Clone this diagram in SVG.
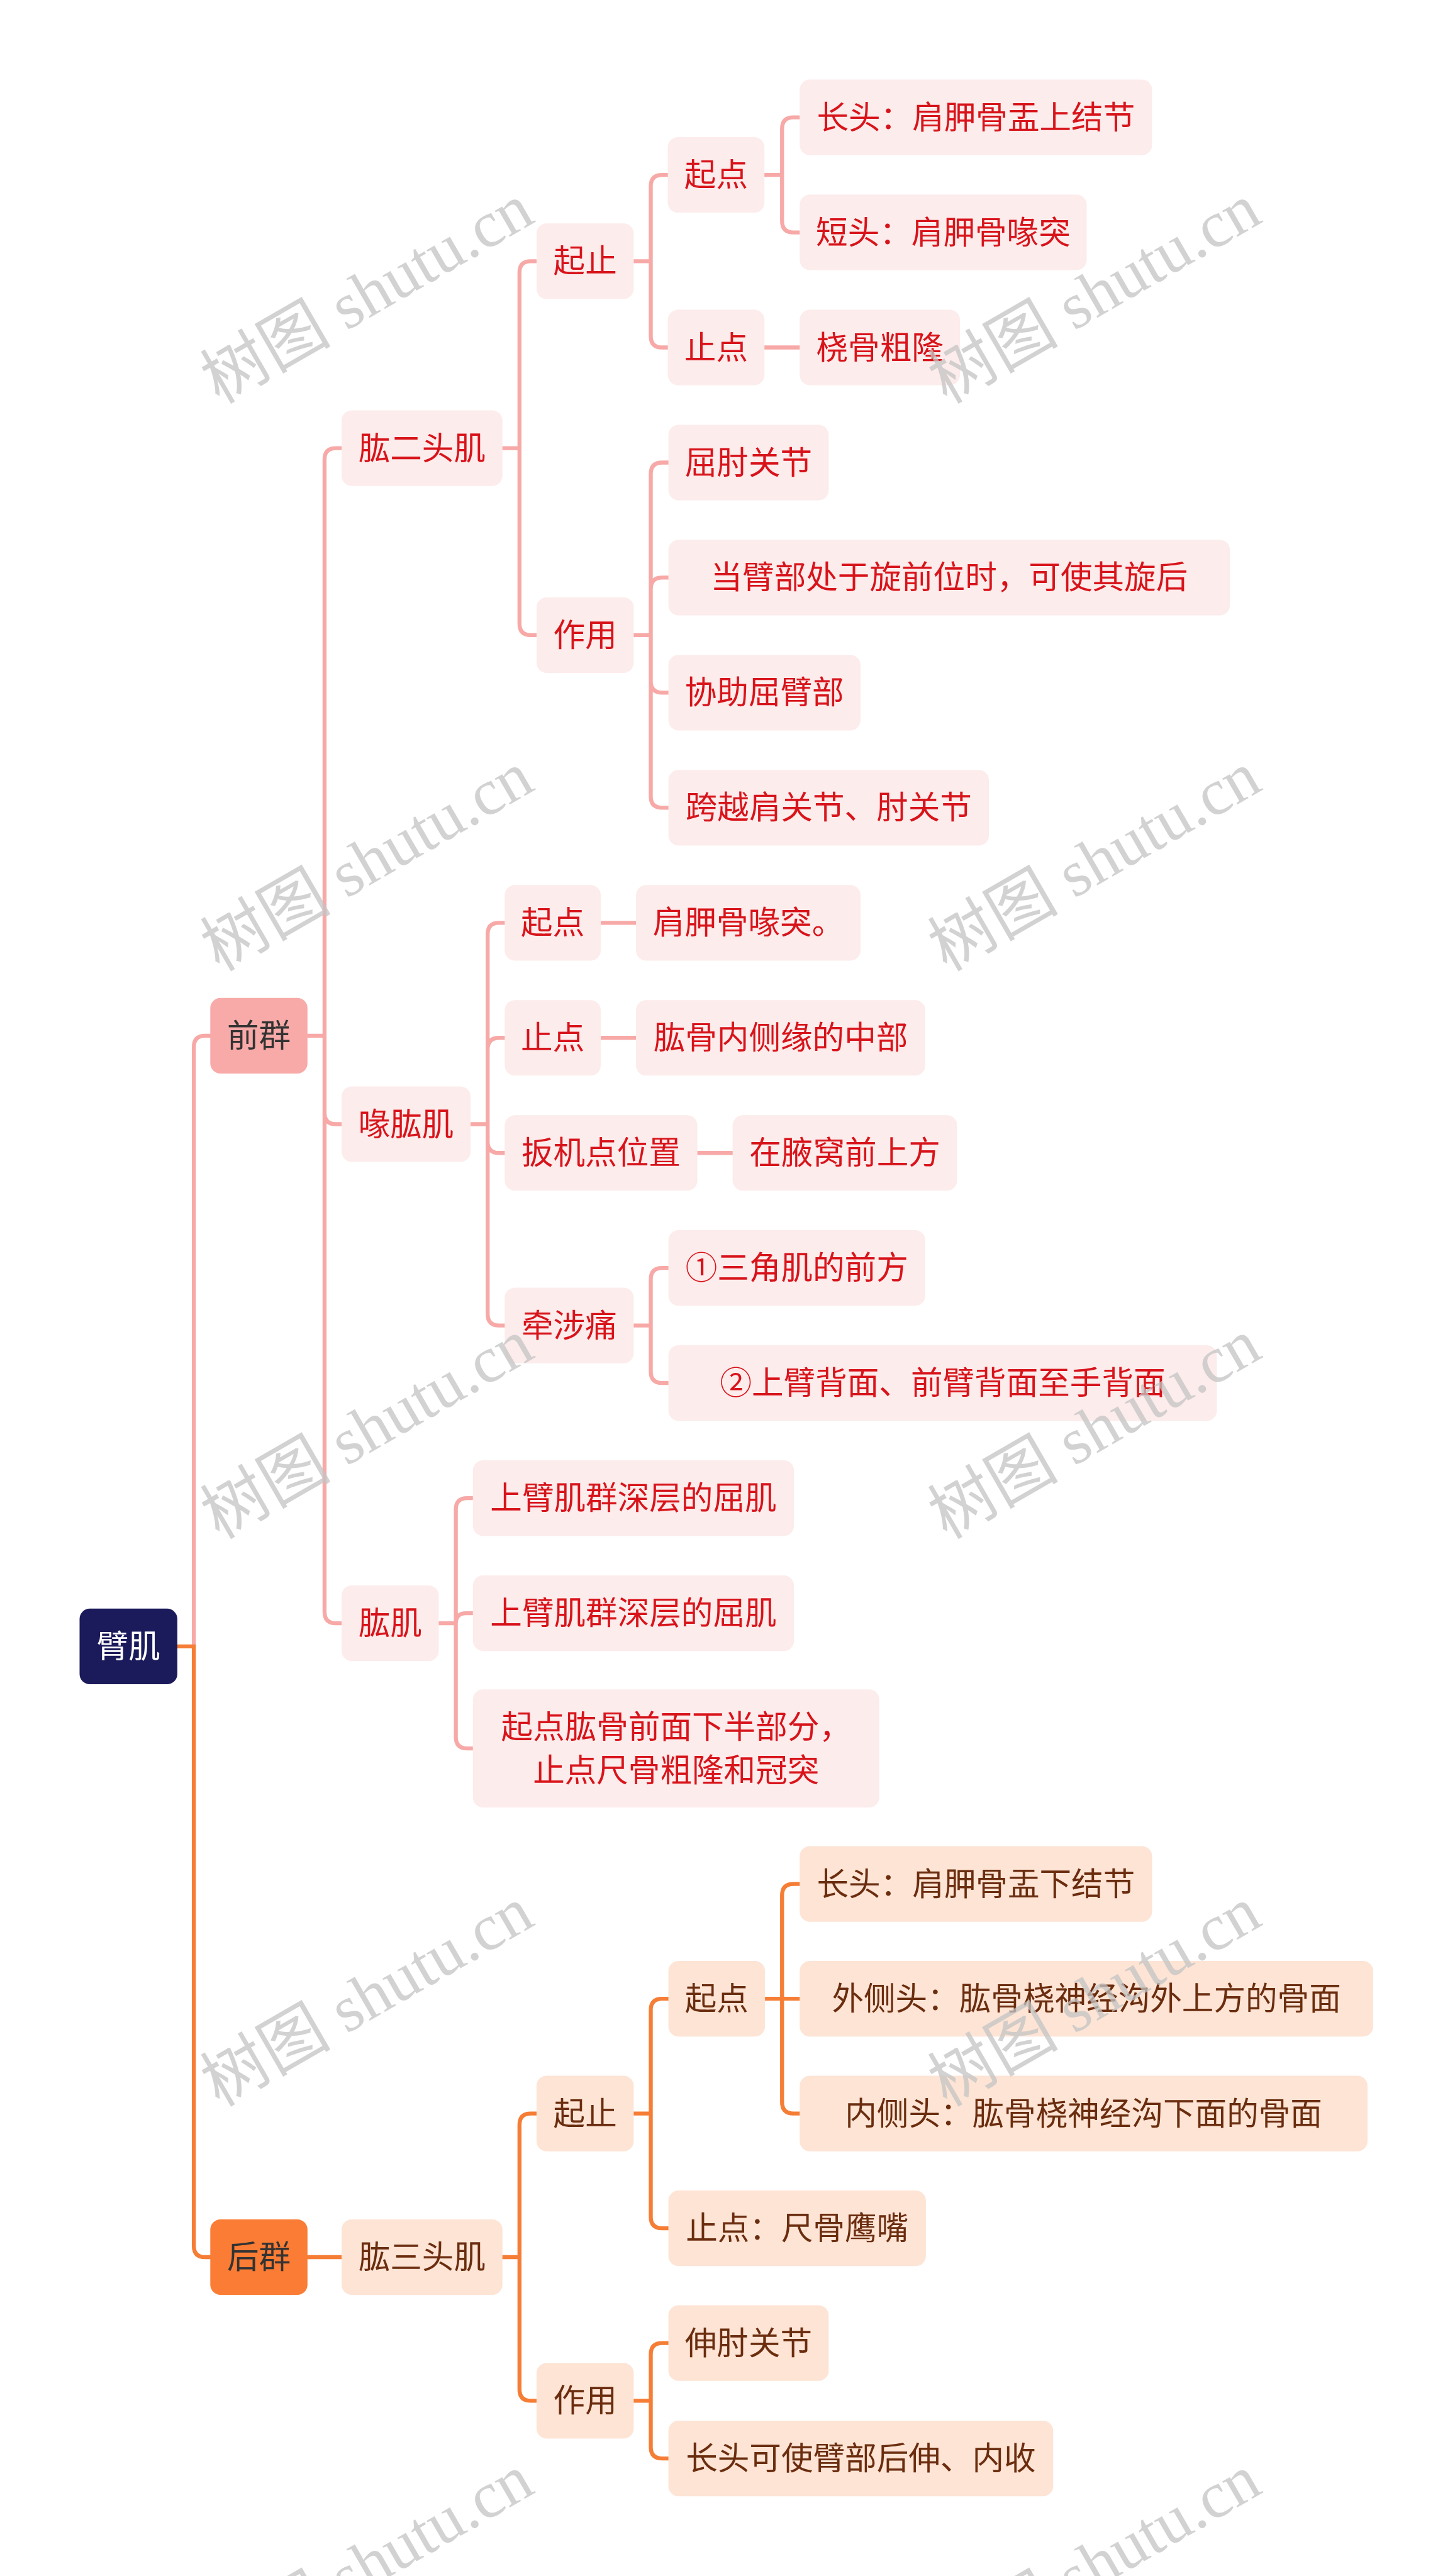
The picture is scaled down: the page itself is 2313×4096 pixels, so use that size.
<svg xmlns="http://www.w3.org/2000/svg" width="2313" height="4096" viewBox="0 0 2313 4096">
<style>
  text { font-family: "Noto Sans CJK SC", "Noto Sans", sans-serif; font-size: 56px; text-anchor: middle; }
  .pk rect { fill: #fdecec; }
  .pk text { fill: #d8141b; }
  .or rect { fill: #fde4d5; }
  .or text { fill: #6b2d0f; }
  .root rect { fill: #1b1a5b; }
  .root text { fill: #ffffff; }
  .g1p rect { fill: #f8aaa8; }
  .g1o rect { fill: #fb7c34; }
  .g1p text, .g1o text { fill: #333333; }
  .cp { fill: none; stroke: #f7a9a7; stroke-width: 7; }
  .co { fill: none; stroke: #f57d35; stroke-width: 7; }
  .wm text { font-family: "Liberation Serif", "Noto Sans CJK SC", serif; font-size: 115px; fill: #c4c4c4; opacity: 0.75; }
</style>
<rect width="2313" height="4096" fill="#ffffff"/>
<g transform="scale(0.90352)">
  <g id="connectors">
    <g class="cp">
      <path d="M341 2897.5 V1842.75 Q341 1822.75 361 1822.75 H371"/>
      <path d="M540 1822.75 H571 M571 1822.75 V808.75 Q571 788.75 591 788.75 H602 M571 1822.75 V1958.4 Q571 1978.4 591 1978.4 H602 M571 1822.75 V2836.75 Q571 2856.75 591 2856.75 H602"/>
      <path d="M883 788.75 H914 M914 788.75 V479.75 Q914 459.75 934 459.75 H945 M914 788.75 V1097.75 Q914 1117.75 934 1117.75 H945"/>
      <path d="M1114 459.75 H1145 M1145 459.75 V327.75 Q1145 307.75 1165 307.75 H1176 M1145 459.75 V591.5 Q1145 611.5 1165 611.5 H1176"/>
      <path d="M1344 307.75 H1376 M1376 307.75 V226.5 Q1376 206.5 1396 206.5 H1408 M1376 307.75 V389 Q1376 409 1396 409 H1408"/>
      <path d="M1344 611.5 H1408"/>
      <path d="M1114 1117.75 H1145 M1145 1117.75 V834 Q1145 814 1165 814 H1177 M1145 1117.75 V1036.5 Q1145 1016.5 1165 1016.5 H1177 M1145 1117.75 V1199 Q1145 1219 1165 1219 H1177 M1145 1117.75 V1401.5 Q1145 1421.5 1165 1421.5 H1177"/>
      <path d="M827 1978.4 H858 M858 1978.4 V1644 Q858 1624 878 1624 H889 M858 1978.4 V1846.5 Q858 1826.5 878 1826.5 H889 M858 1978.4 V2009 Q858 2029 878 2029 H889 M858 1978.4 V2312.75 Q858 2332.75 878 2332.75 H889"/>
      <path d="M1056 1624 H1120"/>
      <path d="M1056 1826.5 H1120"/>
      <path d="M1226 2029 H1290"/>
      <path d="M1114 2332.75 H1145 M1145 2332.75 V2251.5 Q1145 2231.5 1165 2231.5 H1177 M1145 2332.75 V2414 Q1145 2434 1165 2434 H1177"/>
      <path d="M771 2856.75 H802 M802 2856.75 V2656.5 Q802 2636.5 822 2636.5 H833 M802 2856.75 Q802 2839 820 2839 H833 M802 2856.75 V3057 Q802 3077 822 3077 H833"/>
    </g>
    <g class="co">
      <path d="M311 2897.5 H341 M341 2894 V3952.25 Q341 3972.25 361 3972.25 H371"/>
      <path d="M540 3972.25 H602"/>
      <path d="M883 3972.25 H914 M914 3972.25 V3739.5 Q914 3719.5 934 3719.5 H945 M914 3972.25 V4205 Q914 4225 934 4225 H945"/>
      <path d="M1114 3719.5 H1145 M1145 3719.5 V3537.5 Q1145 3517.5 1165 3517.5 H1177 M1145 3719.5 V3901.5 Q1145 3921.5 1165 3921.5 H1177"/>
      <path d="M1345 3517.5 H1376 M1376 3517.5 V3335.5 Q1376 3315.5 1396 3315.5 H1408 M1376 3517.5 H1408 M1376 3517.5 V3699.5 Q1376 3719.5 1396 3719.5 H1408"/>
      <path d="M1114 4225 H1145 M1145 4225 V4143.5 Q1145 4123.5 1165 4123.5 H1177 M1145 4225 V4306.5 Q1145 4326.5 1165 4326.5 H1177"/>
    </g>
  </g>

  <g id="n-root" class="root"><rect x="140" y="2831" width="172" height="133" rx="18"/><text x="226" y="2917.5">臂肌</text></g>

  <g id="n-qianqun" class="g1p"><rect x="370" y="1756.25" width="171" height="133" rx="18"/><text x="455.5" y="1842.75">前群</text></g>
  <g id="n-houqun" class="g1o"><rect x="370" y="3905.75" width="171" height="133" rx="18"/><text x="455.5" y="3992.25">后群</text></g>

  <g id="n-gongertoujii" class="pk"><rect x="601" y="722.25" width="283" height="133" rx="18"/><text x="742.5" y="808.75">肱二头肌</text></g>
  <g id="n-huigongji" class="pk"><rect x="601" y="1911.9" width="227" height="133" rx="18"/><text x="714.5" y="1998.4">喙肱肌</text></g>
  <g id="n-gongji" class="pk"><rect x="601" y="2790.25" width="171" height="133" rx="18"/><text x="686.5" y="2876.75">肱肌</text></g>

  <g id="n-b-qizhi" class="pk"><rect x="944" y="393.25" width="171" height="133" rx="18"/><text x="1029.5" y="479.75">起止</text></g>
  <g id="n-b-zuoyong" class="pk"><rect x="944" y="1051.25" width="171" height="133" rx="18"/><text x="1029.5" y="1137.75">作用</text></g>
  <g id="n-b-qidian" class="pk"><rect x="1175" y="241.25" width="170" height="133" rx="18"/><text x="1260" y="327.75">起点</text></g>
  <g id="n-b-zhidian" class="pk"><rect x="1175" y="545" width="170" height="133" rx="18"/><text x="1260" y="631.5">止点</text></g>
  <g id="n-b-changtou" class="pk"><rect x="1407" y="140" width="620" height="133" rx="18"/><text x="1717" y="226.5">长头：肩胛骨盂上结节</text></g>
  <g id="n-b-duantou" class="pk"><rect x="1407" y="342.5" width="505" height="133" rx="18"/><text x="1659.5" y="429">短头：肩胛骨喙突</text></g>
  <g id="n-b-raogu" class="pk"><rect x="1407" y="545" width="282" height="133" rx="18"/><text x="1548" y="631.5">桡骨粗隆</text></g>
  <g id="n-b-quzhou" class="pk"><rect x="1176" y="747.5" width="282" height="133" rx="18"/><text x="1317" y="834">屈肘关节</text></g>
  <g id="n-b-dangbi" class="pk"><rect x="1176" y="950" width="988" height="133" rx="18"/><text x="1670" y="1036.5">当臂部处于旋前位时，可使其旋后</text></g>
  <g id="n-b-xiezhu" class="pk"><rect x="1176" y="1152.5" width="338" height="133" rx="18"/><text x="1345" y="1239">协助屈臂部</text></g>
  <g id="n-b-kuayue" class="pk"><rect x="1176" y="1355" width="564" height="133" rx="18"/><text x="1458" y="1441.5">跨越肩关节、肘关节</text></g>

  <g id="n-h-qidian" class="pk"><rect x="888" y="1557.5" width="169" height="133" rx="18"/><text x="972.5" y="1644">起点</text></g>
  <g id="n-h-zhidian" class="pk"><rect x="888" y="1760" width="169" height="133" rx="18"/><text x="972.5" y="1846.5">止点</text></g>
  <g id="n-h-banji" class="pk"><rect x="888" y="1962.5" width="339" height="133" rx="18"/><text x="1057.5" y="2049">扳机点位置</text></g>
  <g id="n-h-qianshe" class="pk"><rect x="888" y="2266.25" width="227" height="133" rx="18"/><text x="1001.5" y="2352.75">牵涉痛</text></g>
  <g id="n-h-jianjia" class="pk"><rect x="1119" y="1557.5" width="395" height="133" rx="18"/><text x="1316.5" y="1644">肩胛骨喙突。</text></g>
  <g id="n-h-gonggu" class="pk"><rect x="1119" y="1760" width="509" height="133" rx="18"/><text x="1373.5" y="1846.5">肱骨内侧缘的中部</text></g>
  <g id="n-h-yewo" class="pk"><rect x="1289" y="1962.5" width="395" height="133" rx="18"/><text x="1486.5" y="2049">在腋窝前上方</text></g>
  <g id="n-h-sanjiao" class="pk"><rect x="1176" y="2165" width="452" height="133" rx="18"/><text x="1402" y="2251.5">①三角肌的前方</text></g>
  <g id="n-h-shangbi" class="pk"><rect x="1176" y="2367.5" width="965" height="133" rx="18"/><text x="1658.5" y="2454">②上臂背面、前臂背面至手背面</text></g>

  <g id="n-g-1" class="pk"><rect x="832" y="2570" width="565" height="133" rx="18"/><text x="1114.5" y="2656.5">上臂肌群深层的屈肌</text></g>
  <g id="n-g-2" class="pk"><rect x="832" y="2772.5" width="565" height="133" rx="18"/><text x="1114.5" y="2859">上臂肌群深层的屈肌</text></g>
  <g id="n-g-3" class="pk"><rect x="832" y="2973" width="715" height="208" rx="18"/><text x="1189.5" y="3059">起点肱骨前面下半部分，</text><text x="1189.5" y="3135">止点尺骨粗隆和冠突</text></g>

  <g id="n-gongsantoujii" class="or"><rect x="601" y="3905.75" width="283" height="133" rx="18"/><text x="742.5" y="3992.25">肱三头肌</text></g>
  <g id="n-t-qizhi" class="or"><rect x="944" y="3653" width="171" height="133" rx="18"/><text x="1029.5" y="3739.5">起止</text></g>
  <g id="n-t-zuoyong" class="or"><rect x="944" y="4158.5" width="171" height="133" rx="18"/><text x="1029.5" y="4245">作用</text></g>
  <g id="n-t-qidian" class="or"><rect x="1176" y="3451" width="170" height="133" rx="18"/><text x="1261" y="3537.5">起点</text></g>
  <g id="n-t-zhidian" class="or"><rect x="1176" y="3855" width="453" height="133" rx="18"/><text x="1402.5" y="3941.5">止点：尺骨鹰嘴</text></g>
  <g id="n-t-changtou" class="or"><rect x="1407" y="3249" width="620" height="133" rx="18"/><text x="1717" y="3335.5">长头：肩胛骨盂下结节</text></g>
  <g id="n-t-waice" class="or"><rect x="1407" y="3451" width="1009" height="133" rx="18"/><text x="1911.5" y="3537.5">外侧头：肱骨桡神经沟外上方的骨面</text></g>
  <g id="n-t-neice" class="or"><rect x="1407" y="3653" width="999" height="133" rx="18"/><text x="1906.5" y="3739.5">内侧头：肱骨桡神经沟下面的骨面</text></g>
  <g id="n-t-shenzhou" class="or"><rect x="1176" y="4057" width="282" height="133" rx="18"/><text x="1317" y="4143.5">伸肘关节</text></g>
  <g id="n-t-changtou2" class="or"><rect x="1176" y="4260" width="677" height="133" rx="18"/><text x="1514.5" y="4346.5">长头可使臂部后伸、内收</text></g>

  <g id="watermark" class="wm">
    <text x="645" y="556" transform="rotate(-30 645 516)">树图 shutu.cn</text>
    <text x="1925" y="556" transform="rotate(-30 1925 516)">树图 shutu.cn</text>
    <text x="645" y="1555" transform="rotate(-30 645 1515)">树图 shutu.cn</text>
    <text x="1925" y="1555" transform="rotate(-30 1925 1515)">树图 shutu.cn</text>
    <text x="645" y="2554" transform="rotate(-30 645 2514)">树图 shutu.cn</text>
    <text x="1925" y="2554" transform="rotate(-30 1925 2514)">树图 shutu.cn</text>
    <text x="645" y="3553" transform="rotate(-30 645 3513)">树图 shutu.cn</text>
    <text x="1925" y="3553" transform="rotate(-30 1925 3513)">树图 shutu.cn</text>
    <text x="645" y="4552" transform="rotate(-30 645 4512)">树图 shutu.cn</text>
    <text x="1925" y="4552" transform="rotate(-30 1925 4512)">树图 shutu.cn</text>
  </g>
</g>
</svg>
